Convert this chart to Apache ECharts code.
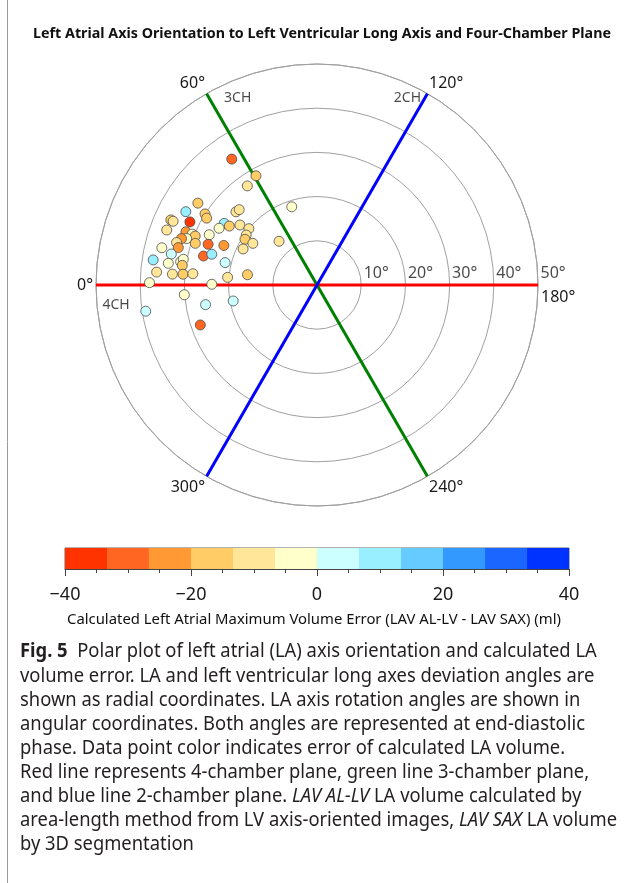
<!DOCTYPE html>
<html><head><meta charset="utf-8">
<script src="https://cdn.jsdelivr.net/npm/echarts@6/dist/echarts.min.js"></script>
<style>html,body{margin:0;padding:0;background:#fff}#c{width:630px;height:883px}</style>
</head><body><div id="c"></div>
<script>
// ---------- data ----------
const radialTicks = [10, 20, 30, 40, 50];
const angleTicks = [0, 60, 120, 180, 240, 300];
const planeNames = ['4CH plane', '3CH plane', '2CH plane'];
const planeAngles = [0, 60, 120];
// LA/LV long-axis deviation angle (radial, degrees)
const deviation = [34.4, 28.3, 27.4, 18.6, 32.7, 34.0, 30.0, 29.2, 24.7, 24.5,
  36.2, 35.6, 32.1, 36.2, 32.0, 25.2, 25.6, 23.9, 22.1, 20.0,
  19.6, 19.3, 17.3, 18.6, 13.1, 30.5, 29.7, 31.3, 32.4, 33.2,
  29.1, 26.9, 26.3, 22.9, 36.1, 32.5, 33.7, 26.5, 24.8, 37.5,
  34.0, 31.3, 30.8, 30.8, 21.4, 36.4, 32.8, 30.4, 28.2, 20.3,
  15.9, 37.9, 23.8, 30.1, 25.6, 19.3, 39.2, 27.9];
// LA axis rotation angle (angular, degrees)
const rotation = [55.9, 60.8, 54.9, 72.1, 34.5, 29.2, 32.4, 31.2, 42.1, 44.1,
  24.0, 23.9, 26.4, 20.1, 22.1, 33.6, 30.1, 33.9, 37.9, 39.6,
  35.2, 32.4, 33.0, 26.0, 49.0, 22.2, 21.9, 19.6, 18.9, 16.8,
  18.9, 25.0, 20.5, 23.0, 13.5, 15.1, 12.0, 14.3, 16.3, 8.7,
  8.3, 9.7, 10.9, 8.3, 13.7, 4.6, 4.3, 4.6, 5.2, 4.9,
  8.4, 0.8, 0.4, 355.8, 350.0, 349.2, 351.3, 341.1];
// calculated LA maximum volume error (ml)
const volumeError = [-28, -17, -10, -3, -17, 10, -17, -15, -10, -10,
  -16, -10, -37, -10, -23, 10, -3, -17, -10, -10,
  -8, -16, -10, -10, -10, -3, -17, -3, -23, -10,
  -16, -3, -31, -23, -6, -23, 3, -31, 10, 10,
  -3, -3, -3, -16, 3, -8, -11, -16, -10, -10,
  -16, -3, -3, -3, 3, 3, 3, -28];
// colour scale
const colorBins = [-40, -33.33, -26.67, -20, -13.33, -6.67, 0, 6.67, 13.33, 20, 26.67, 33.33, 40];
const binColors = ['#FF3300', '#FF6622', '#FF9933', '#FFCC66', '#FFE699', '#FFFFCC',
  '#CCFFFF', '#99EEFF', '#66CCFF', '#3399FF', '#1A66FF', '#0033FF'];
const colorbarTicks = [-40, -20, 0, 20, 40];

const titleText = 'Left Atrial Axis Orientation to Left Ventricular Long Axis and Four-Chamber Plane';
const colorbarName = 'Calculated Left Atrial Maximum Volume Error (LAV AL-LV - LAV SAX) (ml)';
const captionLines = [
  '{b|Fig. 5}  Polar plot of left atrial (LA) axis orientation and calculated LA',
  'volume error. LA and left ventricular long axes deviation angles are',
  'shown as radial coordinates. LA axis rotation angles are shown in',
  'angular coordinates. Both angles are represented at end-diastolic',
  'phase. Data point color indicates error of calculated LA volume.',
  'Red line represents 4-chamber plane, green line 3-chamber plane,',
  'and blue line 2-chamber plane. {i|LAV AL-LV} LA volume calculated by',
  'area-length method from LV axis-oriented images, {i|LAV SAX} LA volume',
  'by 3D segmentation'
];

// ---------- layout helpers ----------
const FF = '"Noto Sans", "Open Sans", "DejaVu Sans", sans-serif';
const ctx = document.createElement('canvas').getContext('2d');
function measure(text, font) { ctx.font = font; return ctx.measureText(text).width; }
function measureRich(line, size) {
  let w = 0, last = 0; const re = /\{(\w)\|([^}]*)\}/g; let m;
  while ((m = re.exec(line))) {
    w += measure(line.slice(last, m.index), size + 'px ' + FF);
    w += measure(m[2], (m[1] === 'b' ? 'bold ' : 'italic ') + size + 'px ' + FF);
    last = m.index + m[0].length;
  }
  w += measure(line.slice(last), size + 'px ' + FF);
  return w;
}
const capScale = (617 - 20) / measureRich(captionLines[7], 19);
const titleScale = 578 / measure(titleText, 'bold 15px ' + FF);
const cbNameScale = 494 / measure(colorbarName, '14px ' + FF);

const points = deviation.map((r, i) => [r, rotation[i], volumeError[i]]);
const pieces = binColors.map((c, i) => i === binColors.length - 1
  ? { gte: colorBins[i], lte: colorBins[i + 1], color: c }
  : { gte: colorBins[i], lt: colorBins[i + 1], color: c });
const cbData = binColors.map((c, i) => [colorBins[i], colorBins[i + 1], i]);
const rMax = radialTicks[radialTicks.length - 1];
const planeColors = ['#FF0000', '#008000', '#0000FF'];

const chart = echarts.init(document.getElementById('c'), null, { renderer: 'canvas', width: 630, height: 883 });

const graphic = [
  { type: 'line', shape: { x1: 7.5, y1: 0, x2: 7.5, y2: 883 }, style: { stroke: '#9a9a9a', lineWidth: 1 } },
  { type: 'text', x: 33, y: 34, scaleX: titleScale,
    style: { text: titleText, fontFamily: FF, fontSize: 15, fontWeight: 'bold', fill: '#111',
      align: 'left', verticalAlign: 'middle', textAlign: 'left', textVerticalAlign: 'middle' } },
  { type: 'text', x: 67, y: 620, scaleX: cbNameScale,
    style: { text: colorbarName, fontFamily: FF, fontSize: 14, fill: '#111',
      align: 'left', verticalAlign: 'middle', textAlign: 'left', textVerticalAlign: 'middle' } }
];
captionLines.forEach((t, i) => {
  graphic.push({ type: 'text', x: 20, y: 652 + i * 24.1, scaleX: capScale,
    style: { text: t, fontFamily: FF, fontSize: 19, fill: '#231f20',
      align: 'left', verticalAlign: 'middle', textAlign: 'left', textVerticalAlign: 'middle',
      rich: {
        b: { fontFamily: FF, fontSize: 19, fontWeight: 'bold', fill: '#231f20' },
        i: { fontFamily: FF, fontSize: 19, fontStyle: 'italic', fill: '#231f20' }
      } } });
});

const option = {
  backgroundColor: '#fff',
  animation: false,
  textStyle: { fontFamily: FF },
  polar: { center: [317, 285], radius: 221 },
  angleAxis: {
    type: 'value', min: 0, max: 360, interval: 60, startAngle: 180, clockwise: true,
    axisLine: { show: true, lineStyle: { color: '#a0a0a0', width: 1 } },
    axisTick: { show: false }, splitLine: { show: false },
    axisLabel: {
      margin: 3, fontSize: 16, color: '#1a1a1a', fontFamily: FF,
      formatter: v => (angleTicks.indexOf(v) < 0 ? '' : (v === 180 ? '{low|180°}' : v + '°')),
      rich: { low: { padding: [25, 0, 0, 0], fontSize: 16, color: '#1a1a1a', fontFamily: FF } }
    }
  },
  radiusAxis: {
    type: 'value', min: 0, max: rMax, interval: 10,
    axisLine: { show: false }, axisTick: { show: false }, axisLabel: { show: false },
    splitLine: { show: true, lineStyle: { color: '#a0a0a0', width: 1 } }
  },
  grid: { left: 65, width: 504, top: 548, height: 21, show: true, borderColor: '#666', borderWidth: 1, backgroundColor: 'transparent' },
  xAxis: {
    type: 'value', min: -40, max: 40, interval: 20,
    axisLine: { show: true, lineStyle: { color: '#444' } },
    axisTick: { show: true, length: 7, lineStyle: { color: '#444' } },
    minorTick: { show: true, splitNumber: 4, length: 4, lineStyle: { color: '#444' } },
    splitLine: { show: false },
    axisLabel: { margin: 17, fontSize: 18, color: '#1a1a1a', fontFamily: FF,
      formatter: v => (v < 0 ? '\u2212' + Math.abs(v) : String(v)) }
  },
  yAxis: { type: 'value', min: 0, max: 1, show: false },
  visualMap: { type: 'piecewise', show: false, dimension: 2, seriesIndex: 4, pieces: pieces },
  series: [
    ...planeAngles.map((a, i) => ({
      type: 'line', name: planeNames[i], coordinateSystem: 'polar', symbol: 'none', z: 2,
      data: [[rMax, a], [rMax, a + 180]],
      lineStyle: { color: planeColors[i], width: 3 }
    })),
    {
      type: 'scatter', name: 'ticks', coordinateSystem: 'polar', symbolSize: 1, z: 3, silent: true,
      itemStyle: { color: 'rgba(0,0,0,0)' },
      data: radialTicks.map(r => [r, 180]),
      label: { show: true, position: 'right', distance: 2, offset: [0, -12], fontSize: 16,
        color: '#1a1a1a', fontFamily: FF, formatter: p => p.value[0] + '°' }
    },
    {
      type: 'scatter', name: 'LA', coordinateSystem: 'polar', symbol: 'circle', symbolSize: 10, z: 5,
      itemStyle: { borderColor: '#4a4a4a', borderWidth: 0.8, opacity: 1 },
      data: points
    },
    {
      type: 'scatter', name: 'planes', coordinateSystem: 'polar', symbolSize: 1, z: 3, silent: true,
      itemStyle: { color: 'rgba(0,0,0,0)' },
      data: [[45.9, 67, '3CH'], [47.0, 115.8, '2CH'], [45.7, 354.3, '4CH']],
      label: { show: true, position: 'inside', fontSize: 14, color: '#1a1a1a', fontFamily: FF,
        formatter: p => p.value[2] }
    },
    {
      type: 'custom', name: 'colorbar', coordinateSystem: 'cartesian2d', z: 1,
      data: cbData,
      renderItem: (params, api) => {
        const p0 = api.coord([api.value(0), 1]);
        const p1 = api.coord([api.value(1), 0]);
        return { type: 'rect', shape: { x: p0[0], y: p0[1], width: p1[0] - p0[0], height: p1[1] - p0[1] },
          style: { fill: binColors[api.value(2)] } };
      }
    }
  ],
  graphic: graphic
};
chart.setOption(option);
</script></body></html>
